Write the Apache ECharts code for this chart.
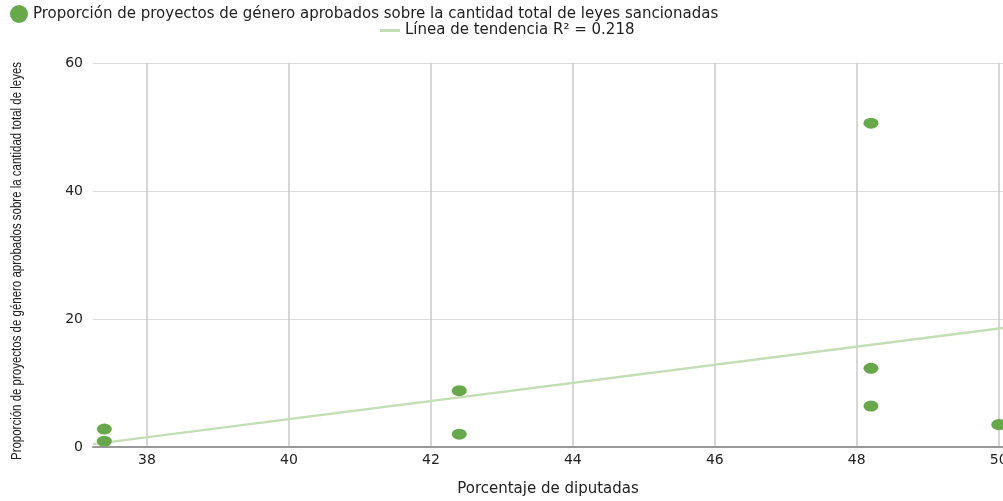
<!DOCTYPE html>
<html><head><meta charset="utf-8">
<script src="https://cdn.jsdelivr.net/npm/echarts@6/dist/echarts.min.js"></script>
<style>html,body{margin:0;padding:0;background:#fff}#c{width:1003px;height:501px}</style>
</head><body><div id="c"></div>
<script>
const seriesName = 'Proporción de proyectos de género aprobados sobre la cantidad total de leyes sancionadas';
const trendName = 'Línea de tendencia R² = 0.218';
const xName = 'Porcentaje de diputadas';
const yName = 'Proporción de proyectos de género aprobados sobre la cantidad total de leyes';
const xDiputadas = [37.4, 37.4, 42.4, 42.4, 48.2, 48.2, 48.2, 50.0];
const yProporcion = [2.8, 0.9, 8.8, 2.0, 50.6, 12.3, 6.4, 3.5];
const trendX = [37.24, 50.06];
const trendY = [0.45, 18.6];

const font = '"DejaVu Sans", sans-serif';
const yFontSize = 15;
const yFont = yFontSize + 'px "Liberation Sans", sans-serif';
const ctx = document.createElement('canvas').getContext('2d');
ctx.font = yFont;
const yNameWidth = ctx.measureText(yName).width;
const yNameScale = 398 / yNameWidth;

const chart = echarts.init(document.getElementById('c'), null, {renderer: 'canvas'});
chart.setOption({
  animation: false,
  legend: [
    {data: [{name: seriesName, icon: 'circle'}], left: 5, top: 0, itemWidth: 18, itemHeight: 18, itemGap: 8,
     textStyle: {fontFamily: font, fontSize: 15, color: '#222'}},
    {data: [{name: trendName, icon: 'rect'}], left: 375, top: 18, itemWidth: 20, itemHeight: 3, itemGap: 10,
     textStyle: {fontFamily: font, fontSize: 15, color: '#222'}}
  ],
  graphic: [{
    type: 'text', x: 17, y: 261, rotation: Math.PI / 2, scaleX: yNameScale, scaleY: 1,
    style: {text: yName, font: yFont, fill: '#222', align: 'center', verticalAlign: 'middle'}
  }],
  grid: {left: 93, right: 0, top: 63, bottom: 54, containLabel: false, outerBoundsMode: 'none'},
  xAxis: {
    type: 'value', min: trendX[0], max: trendX[1], splitNumber: 7,
    name: xName, nameLocation: 'middle', nameGap: 35,
    nameTextStyle: {fontFamily: font, fontSize: 15, color: '#222'},
    axisLine: {show: true, lineStyle: {color: '#999', width: 2}},
    axisTick: {show: false},
    axisLabel: {fontFamily: font, fontSize: 14, color: '#222', margin: 6, showMinLabel: false, showMaxLabel: false},
    splitLine: {show: true, showMinLine: false, showMaxLine: false, lineStyle: {color: '#c8c8c8', width: 1.5}}
  },
  yAxis: {
    type: 'value', min: 0, max: 60, interval: 20,
    axisLine: {show: false}, axisTick: {show: false},
    axisLabel: {fontFamily: font, fontSize: 14, color: '#222', margin: 10},
    splitLine: {show: true, lineStyle: {color: '#d9d9d9', width: 1}}
  },
  series: [
    {name: trendName, type: 'line', data: trendX.map((x, i) => [x, trendY[i]]), symbol: 'none',
     lineStyle: {color: '#c3ddb5', width: 2.5}, itemStyle: {color: '#c3ddb5'}, z: 2},
    {name: seriesName, type: 'scatter', data: xDiputadas.map((x, i) => [x, yProporcion[i]]),
     symbol: 'circle', symbolSize: [15, 11], itemStyle: {color: '#67a84a', opacity: 1}, z: 3}
  ]
});
</script></body></html>
